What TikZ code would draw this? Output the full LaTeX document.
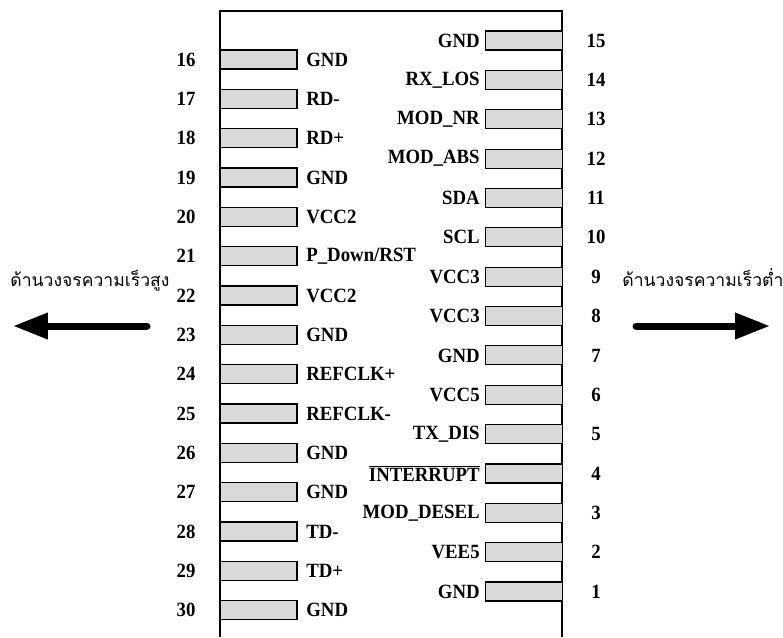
\documentclass[tikz,border=0pt]{standalone}
\usepackage{fontspec}
\setmainfont{Liberation Serif}[FakeStretch=0.93]
\newfontfamily\thaifont[Script=Thai]{Loma}
\usetikzlibrary{arrows.meta}
\definecolor{pinfill}{RGB}{217,217,217}

\begin{document}
\begin{tikzpicture}[x=0.02cm, y=-0.02cm]
  \useasboundingbox (0, 0) rectangle (783, 637);  % Seitenraender wie Vorlage.
  \tikzstyle{pin}=[rectangle, draw, line width=0.6pt, fill=pinfill, minimum width=1.54cm, minimum height=0.38cm, inner sep=0pt]
  \tikzstyle{lname}=[anchor=west, inner sep=0pt, font=\fontsize{11.5}{14}\selectfont\bfseries]
  \tikzstyle{rname}=[anchor=east, inner sep=0pt, font=\fontsize{11.5}{14}\selectfont\bfseries]
  \tikzstyle{num}=[inner sep=0pt, font=\fontsize{11.5}{14}\selectfont\bfseries]
  \tikzstyle{side}=[anchor=base west, inner sep=0pt, font=\fontsize{10}{12}\selectfont\thaifont]
  \tikzstyle{bigarrow}=[line width=0.14cm, line cap=round, -{Triangle[length=0.7cm, width=0.5cm]}]

  % Gehaeuse, unten offen
  \coordinate (bl) at (220, 637);
  \coordinate (tl) at (220, 11);
  \coordinate (tr) at (562, 11);
  \coordinate (br) at (562, 637);
  \draw [line width=0.6pt] (bl) -- (tl) -- (tr) -- (br);

  % linke Seite
  \node[pin] (16) at (258.5, 59.5)  {}; \node[lname] (l16) at (306, 59.5)  {GND};  \node[num] (n16) at (186, 59.5)  {16};
  \node[pin] (17) at (258.5, 98.8)  {}; \node[lname] (l17) at (306, 98.8)  {RD-};  \node[num] (n17) at (186, 98.8)  {17};
  \node[pin] (18) at (258.5, 138.2) {}; \node[lname] (l18) at (306, 138.2) {RD+};  \node[num] (n18) at (186, 138.2) {18};
  \node[pin] (19) at (258.5, 177.5) {}; \node[lname] (l19) at (306, 177.5) {GND};  \node[num] (n19) at (186, 177.5) {19};
  \node[pin] (20) at (258.5, 216.8) {}; \node[lname] (l20) at (306, 216.8) {VCC2}; \node[num] (n20) at (186, 216.8) {20};
  \node[pin] (21) at (258.5, 256.2) {}; \node[lname] (l21) at (306, 256.2) {P\_Down/RST}; \node[num] (n21) at (186, 256.2) {21};
  \node[pin] (22) at (258.5, 295.5) {}; \node[lname] (l22) at (306, 295.5) {VCC2}; \node[num] (n22) at (186, 295.5) {22};
  \node[pin] (23) at (258.5, 334.8) {}; \node[lname] (l23) at (306, 334.8) {GND};  \node[num] (n23) at (186, 334.8) {23};
  \node[pin] (24) at (258.5, 374.1) {}; \node[lname] (l24) at (306, 374.1) {REFCLK+}; \node[num] (n24) at (186, 374.1) {24};
  \node[pin] (25) at (258.5, 413.5) {}; \node[lname] (l25) at (306, 413.5) {REFCLK-}; \node[num] (n25) at (186, 413.5) {25};
  \node[pin] (26) at (258.5, 452.8) {}; \node[lname] (l26) at (306, 452.8) {GND};  \node[num] (n26) at (186, 452.8) {26};
  \node[pin] (27) at (258.5, 492.1) {}; \node[lname] (l27) at (306, 492.1) {GND};  \node[num] (n27) at (186, 492.1) {27};
  \node[pin] (28) at (258.5, 531.5) {}; \node[lname] (l28) at (306, 531.5) {TD-};  \node[num] (n28) at (186, 531.5) {28};
  \node[pin] (29) at (258.5, 570.8) {}; \node[lname] (l29) at (306, 570.8) {TD+};  \node[num] (n29) at (186, 570.8) {29};
  \node[pin] (30) at (258.5, 610.1) {}; \node[lname] (l30) at (306, 610.1) {GND};  \node[num] (n30) at (186, 610.1) {30};

  % rechte Seite
  \node[pin] (15) at (524, 40.5)  {}; \node[rname] (l15) at (480, 40.5)  {GND};      \node[num] (n15) at (596, 40.5)  {15};
  \node[pin] (14) at (524, 79.9)  {}; \node[rname] (l14) at (480, 79.9)  {RX\_LOS};  \node[num] (n14) at (596, 79.9)  {14};
  \node[pin] (13) at (524, 119.2) {}; \node[rname] (l13) at (480, 119.2) {MOD\_NR};  \node[num] (n13) at (596, 119.2) {13};
  \node[pin] (12) at (524, 158.6) {}; \node[rname] (l12) at (480, 158.6) {MOD\_ABS}; \node[num] (n12) at (596, 158.6) {12};
  \node[pin] (11) at (524, 197.9) {}; \node[rname] (l11) at (480, 197.9) {SDA};      \node[num] (n11) at (596, 197.9) {11};
  \node[pin] (10) at (524, 237.3) {}; \node[rname] (l10) at (480, 237.3) {SCL};      \node[num] (n10) at (596, 237.3) {10};
  \node[pin] (9)  at (524, 276.7) {}; \node[rname] (l9)  at (480, 276.7) {VCC3};     \node[num] (n9)  at (596, 276.7) {9};
  \node[pin] (8)  at (524, 316.0) {}; \node[rname] (l8)  at (480, 316.0) {VCC3};     \node[num] (n8)  at (596, 316.0) {8};
  \node[pin] (7)  at (524, 355.4) {}; \node[rname] (l7)  at (480, 355.4) {GND};      \node[num] (n7)  at (596, 355.4) {7};
  \node[pin] (6)  at (524, 394.7) {}; \node[rname] (l6)  at (480, 394.7) {VCC5};     \node[num] (n6)  at (596, 394.7) {6};
  \node[pin] (5)  at (524, 434.1) {}; \node[rname] (l5)  at (480, 434.1) {TX\_DIS};  \node[num] (n5)  at (596, 434.1) {5};
  \node[pin] (4)  at (524, 473.5) {}; \node[rname] (l4)  at (480, 473.5) {$\overline{\hbox{INTERRUPT}}$}; \node[num] (n4) at (596, 473.5) {4};
  \node[pin] (3)  at (524, 512.8) {}; \node[rname] (l3)  at (480, 512.8) {MOD\_DESEL}; \node[num] (n3) at (596, 512.8) {3};
  \node[pin] (2)  at (524, 552.2) {}; \node[rname] (l2)  at (480, 552.2) {VEE5};     \node[num] (n2)  at (596, 552.2) {2};
  \node[pin] (1)  at (524, 591.5) {}; \node[rname] (l1)  at (480, 591.5) {GND};      \node[num] (n1)  at (596, 591.5) {1};

  % Richtungen
  \node[side] (high) at (10, 286)  {ด้านวงจรความเร็วสูง};
  \node[side] (low)  at (622, 286) {ด้านวงจรความเร็วต่ำ};
  \coordinate (hs) at (147, 326);
  \coordinate (he) at (13, 326);
  \coordinate (ls) at (636, 326);
  \coordinate (le) at (770, 326);
  \draw[bigarrow] (hs) -- (he);
  \draw[bigarrow] (ls) -- (le);
\end{tikzpicture}
\end{document}
